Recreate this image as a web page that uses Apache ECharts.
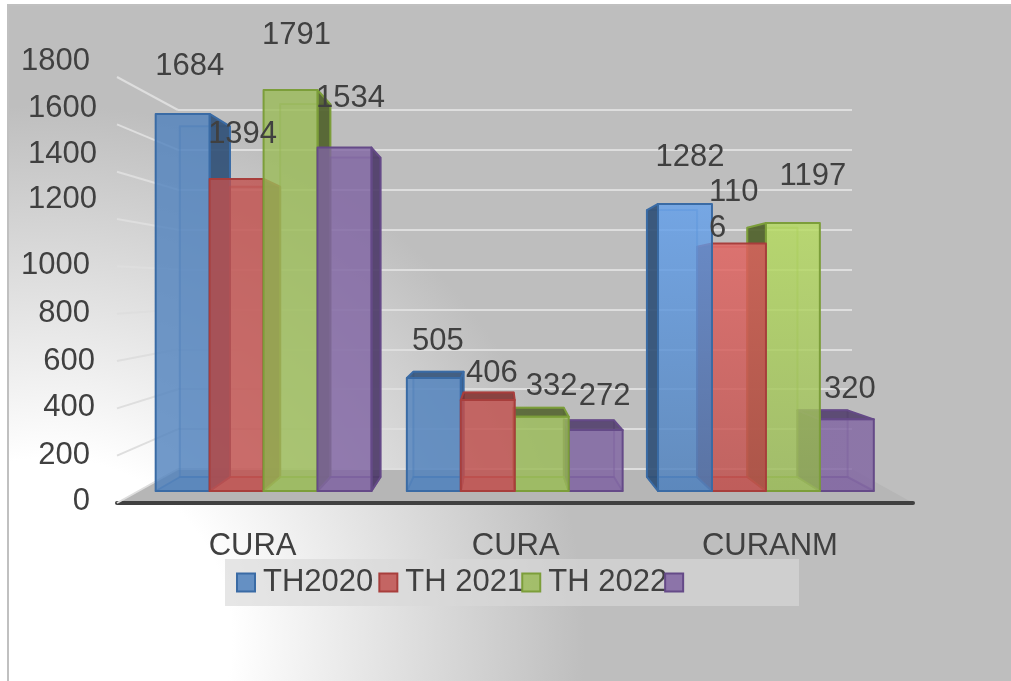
<!DOCTYPE html>
<html>
<head>
<meta charset="utf-8">
<style>
  html, body { margin: 0; padding: 0; background: #fff; }
  #mychart { width: 1011px; height: 681px; }
</style>
</head>
<body>
<div id="mychart"></div>
<script src="https://cdn.jsdelivr.net/npm/echarts@6/dist/echarts.min.js"></script>
<script>
const categories = ['CURA', 'CURA', 'CURANM'];
const seriesNames = ['TH2020', 'TH 2021', 'TH 2022', ' '];
const th2020 = [1684, 505, 1282];
const th2021 = [1394, 406, 1106];
const th2022 = [1791, 332, 1197];
const thBlank = [1534, 272, 320];
const tickValues = [0, 200, 400, 600, 800, 1000, 1200, 1400, 1600, 1800];

// colours of the office theme, one entry per series
const faceColors = ['#4f81bd', '#c0504d', '#9bbb59', '#8064a2'];
const brightColors = ['#64a1ed', '#e36360', '#b6dc5f', '#8064a2'];
const edgeColors = ['#3a6ba5', '#a83e3c', '#7c9e3a', '#654a88'];
const sideColors = ['#2f4f75', '#7f2f2d', '#4f5f2a', '#4d3a68'];

// the labels were dragged by hand in the original, [dx, dy] from the bar top centre
const labelNudges = [
  [[7, -48], [4, -36], [5, -47]],
  [[6, -44], [4, -27], [0, 0]],
  [[6, -55], [10, -30], [20, -47]],
  [[6, -49], [9, -34], [3, -30]]
];

const textColor = '#404040';
const fontFamily = '"Liberation Sans", Arial, sans-serif';
const depthScale = 0.93;
const vanishX = 500;
const vanishY = 291;
const wallTop = 110;
const wallBottom = 469;
const maxValue = 1800;

function toBack (p) {
  return [vanishX + depthScale * (p[0] - vanishX), vanishY + depthScale * (p[1] - vanishY)];
}

function face (points, fill, stroke, z2) {
  return {
    type: 'polygon',
    z2: z2,
    shape: { points: points },
    style: { fill: fill, stroke: stroke, lineWidth: 2, lineJoin: 'round' }
  };
}

function fade (color, alpha) {
  return echarts.color.modifyAlpha(color, alpha);
}

function renderBar (seriesIndex) {
  return function (params, api) {
    const cat = api.value(0);
    const value = api.value(1);
    const band = api.size([1, 0])[0];
    const barW = band * 0.2148;
    const center = api.coord([cat, 0]);
    const top = api.coord([cat, value]);
    const x0 = center[0] + (seriesIndex - 2) * barW;
    const x1 = x0 + barW;
    const yTop = top[1];
    const yBase = center[1];
    const bTL = toBack([x0, yTop]);
    const bTR = toBack([x1, yTop]);
    const bBL = toBack([x0, yBase]);
    const bBR = toBack([x1, yBase]);
    const edge = edgeColors[seriesIndex];
    const side = sideColors[seriesIndex];

    // bars further from the vanishing point sit behind the nearer ones
    const z = 2000 - Math.round(Math.abs((x0 + x1) / 2 - vanishX)) * 2;
    const children = [];

    children.push(face([bTL, bTR, bBR, bBL], fade(faceColors[seriesIndex], 0.12), fade(edge, 0.45), z));
    children.push(face([[x0, yBase], [x1, yBase], bBR, bBL], fade(faceColors[seriesIndex], 0.35), fade(edge, 0.6), z));
    if (bTR[0] > x1) {
      children.push(face([[x1, yTop], bTR, bBR, [x1, yBase]], fade(side, 0.9), edge, z));
    }
    if (bTL[0] < x0) {
      children.push(face([[x0, yTop], bTL, bBL, [x0, yBase]], fade(side, 0.9), edge, z));
    }
    if (bTL[1] < yTop) {
      children.push(face([[x0, yTop], [x1, yTop], bTR, bTL], fade(side, 0.85), edge, z));
    }

    let frontFill = fade(faceColors[seriesIndex], 0.8);
    if (cat === 2) {
      frontFill = new echarts.graphic.LinearGradient(0, 0, 0, 1, [
        { offset: 0, color: fade(brightColors[seriesIndex], 0.8) },
        { offset: 1, color: fade(faceColors[seriesIndex], 0.8) }
      ]);
    }
    children.push(face([[x0, yTop], [x1, yTop], [x1, yBase], [x0, yBase]], frontFill, edge, z + 1));

    const nudge = labelNudges[seriesIndex][cat];
    // 1106 wraps inside its label box in the original
    const wrapped = seriesIndex === 1 && cat === 2;
    children.push({
      type: 'text',
      z2: 5000,
      style: {
        text: String(value),
        x: wrapped ? 709 : (x0 + x1) / 2 + nudge[0],
        y: wrapped ? 174 : yTop + nudge[1],
        align: wrapped ? 'left' : 'center',
        verticalAlign: wrapped ? 'top' : 'middle',
        width: wrapped ? 56 : undefined,
        overflow: wrapped ? 'breakAll' : undefined,
        lineHeight: wrapped ? 36 : undefined,
        fontSize: 31,
        fontFamily: fontFamily,
        fill: textColor
      }
    });

    return { type: 'group', children: children };
  };
}

function renderWallLine (params, api) {
  const value = api.value(1);
  const front = api.coord([0, value]);
  const back = api.coord([1, 0]);
  return {
    type: 'line',
    shape: {
      x1: front[0],
      y1: front[1],
      x2: back[0],
      y2: wallBottom - (value / maxValue) * (wallBottom - wallTop)
    },
    style: { stroke: '#dedede', lineWidth: 2 }
  };
}

function barSeries (name, values, index) {
  return {
    name: name,
    type: 'custom',
    xAxisIndex: 0,
    yAxisIndex: 0,
    clip: false,
    silent: true,
    itemStyle: { color: faceColors[index], borderColor: edgeColors[index], borderWidth: 2 },
    renderItem: renderBar(index),
    data: values.map((v, i) => [i, v])
  };
}

// the tick labels were moved by hand in the original, the upper four sit well above their gridlines
function tickLabel (value) {
  return '{t' + value + '|' + value + '}';
}

const tickText = { fontSize: 31, fontFamily: fontFamily, color: textColor };

function tickStyle (right, bottom) {
  return Object.assign({ padding: [0, right, bottom, 0] }, tickText);
}

const option = {
  animation: false,
  graphic: [
    {
      type: 'rect',
      z: -10,
      shape: { x: 8, y: 5, width: 1020, height: 700 },
      style: {
        fill: new echarts.graphic.RadialGradient(50, 640, 535, [
          { offset: 0, color: '#ffffff' },
          { offset: 0.34, color: '#ffffff' },
          { offset: 1, color: '#bebebe' }
        ], true),
        stroke: '#c0c0c0',
        lineWidth: 2
      }
    },
    {
      type: 'polygon',
      z: -1,
      shape: { points: [[117, 503], [178, 469], [852, 469], [913, 503]] },
      style: { fill: '#b6b6b6' }
    },
    {
      type: 'line',
      z: 1,
      shape: { x1: 117, y1: 503, x2: 913, y2: 503 },
      style: { stroke: textColor, lineWidth: 4, lineCap: 'round' }
    },
    {
      type: 'rect',
      z: 1,
      shape: { x: 225, y: 559, width: 574, height: 47 },
      style: { fill: 'rgba(217,217,217,0.65)' }
    }
  ],
  legend: {
    left: 236,
    top: 567,
    padding: 0,
    icon: 'rect',
    itemWidth: 18,
    itemHeight: 18,
    itemGap: -3,
    selectedMode: false,
    // the legend entries overlap a little in the original, only the first one leaves room
    formatter: name => '{n|' + name + '}' + (name === seriesNames[0] ? '{gap| }' : ''),
    textStyle: {
      rich: {
        n: Object.assign({ padding: [0, 0, 0, 3] }, tickText),
        gap: { fontSize: 29, fontFamily: fontFamily }
      }
    },
    data: seriesNames.map((name, i) => ({
      name: name,
      itemStyle: { color: fade(faceColors[i], 0.85), borderColor: edgeColors[i], borderWidth: 2 }
    }))
  },
  grid: [
    { left: 138, width: 753.5, top: 88, height: 403 },
    { left: 178, width: 674, top: wallTop, height: wallBottom - wallTop },
    { left: 117, width: 61, top: 77, height: 426 }
  ],
  xAxis: [
    {
      gridIndex: 0,
      type: 'category',
      data: categories,
      axisLine: { show: false },
      axisTick: { show: false },
      axisLabel: {
        margin: 40,
        interval: 0,
        formatter: (value, index) => '{c' + index + '|' + value + '}',
        rich: {
          c0: Object.assign({ padding: [0, 22, 0, 0] }, tickText),
          c1: Object.assign({ padding: [0, 0, 0, 2] }, tickText),
          c2: Object.assign({ padding: [0, 0, 0, 8] }, tickText)
        }
      }
    },
    { gridIndex: 1, type: 'value', min: 0, max: 1, show: false },
    { gridIndex: 2, type: 'value', min: 0, max: 1, show: false }
  ],
  yAxis: [
    { gridIndex: 0, type: 'value', min: 0, max: maxValue, interval: 200, show: false },
    {
      gridIndex: 1,
      type: 'value',
      min: 0,
      max: maxValue,
      interval: 200,
      axisLine: { show: false },
      axisTick: { show: false },
      axisLabel: { show: false },
      splitLine: { show: true, lineStyle: { color: '#dedede', width: 2 } }
    },
    {
      gridIndex: 2,
      type: 'value',
      min: 0,
      max: maxValue,
      interval: 200,
      axisLine: { show: false },
      axisTick: { show: false },
      splitLine: { show: false },
      axisLabel: {
        margin: 20,
        formatter: tickLabel,
        rich: {
          t0: tickStyle(7, 3),
          t200: tickStyle(7, 0),
          t400: tickStyle(2, 2),
          t600: tickStyle(2, 0),
          t800: tickStyle(7, 0),
          t1000: tickStyle(7, 2),
          t1200: tickStyle(0, 40),
          t1400: tickStyle(0, 34),
          t1600: tickStyle(0, 32),
          t1800: tickStyle(7, 32)
        }
      }
    }
  ],
  series: [
    {
      type: 'custom',
      xAxisIndex: 2,
      yAxisIndex: 2,
      silent: true,
      clip: false,
      z: 1,
      renderItem: renderWallLine,
      data: tickValues.map(v => [0, v])
    },
    barSeries(seriesNames[0], th2020, 0),
    barSeries(seriesNames[1], th2021, 1),
    barSeries(seriesNames[2], th2022, 2),
    barSeries(seriesNames[3], thBlank, 3)
  ]
};

const myChart = echarts.init(document.getElementById('mychart'));
myChart.setOption(option);
</script>
</body>
</html>
